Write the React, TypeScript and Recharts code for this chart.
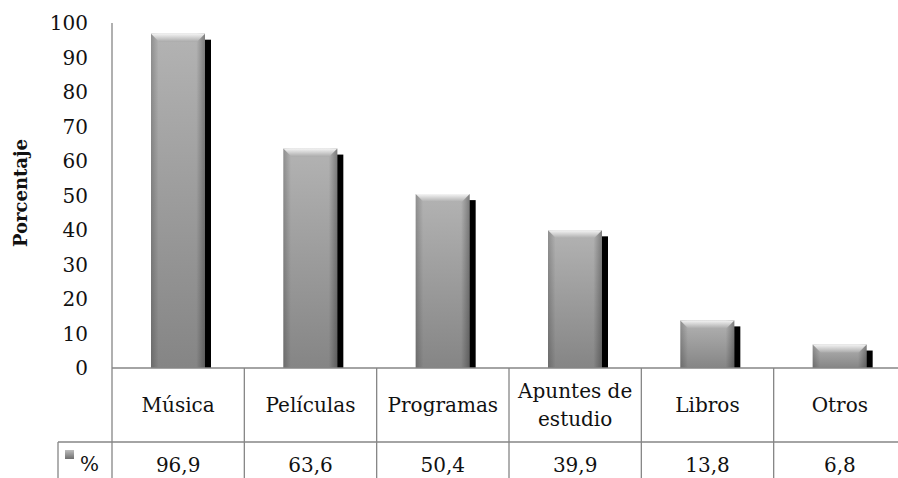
import React from "react";
import { BarChart, Bar, XAxis, YAxis } from "recharts";

const categories = ["Música", "Películas", "Programas", "Apuntes de estudio", "Libros", "Otros"];
const percentages = [96.9, 63.6, 50.4, 39.9, 13.8, 6.8];
const yTicks = [0, 10, 20, 30, 40, 50, 60, 70, 80, 90, 100];
const seriesName = "%";
const axisTitle = "Porcentaje";

const chartData = categories.map((name, i) => ({ name, value: percentages[i] }));

// layout
const CHART_W = 898;
const CHART_H = 478;
const PLOT_LEFT = 112;
const PLOT_RIGHT = 906;
const PLOT_BOTTOM = 368;
const ROW_SPLIT = 442;
const LEGEND_LEFT = 58;
const COL_W = (PLOT_RIGHT - PLOT_LEFT) / categories.length;

const LINE = "#868686";
const FONT = "DejaVu Serif";
const FS = 20;
const txt = { fontFamily: FONT, fontSize: FS };

const fmt = (v: number) => v.toFixed(1).replace(".", ",");

const wrap = (label: string) => {
  if (label.length <= 12) return [label];
  const cut = label.lastIndexOf(" ");
  return [label.slice(0, cut), label.slice(cut + 1)];
};

const BarShape = (props: any) => {
  const { x, y, width, height } = props;
  if (!height || height <= 0) return null;
  const bevel = Math.min(8, height / 2);
  return (
    <g>
      <rect x={x + 6} y={y + 6} width={width} height={Math.max(0, height - 6)} fill="#000" />
      <rect x={x} y={y} width={width} height={height} fill="url(#barFill)" />
      <rect x={x} y={y} width={width} height={height} fill="url(#barSides)" />
      <polygon
        points={`${x},${y} ${x + width},${y} ${x + width - bevel},${y + bevel} ${x + bevel},${y + bevel}`}
        fill="url(#barTop)"
      />
    </g>
  );
};

const YTick = (props: any) => (
  <text x={props.x} y={props.y} dy="0.35em" textAnchor="end" style={txt} fill="#111">
    {props.payload.value}
  </text>
);

const TableTick = (props: any) => {
  const { x, index } = props;
  const left = x - COL_W / 2;
  const right = x + COL_W / 2;
  const lines = wrap(categories[index]);
  const rowMid = (PLOT_BOTTOM + ROW_SPLIT) / 2;
  const isLast = index === categories.length - 1;
  return (
    <g>
      <line x1={left} y1={PLOT_BOTTOM} x2={left} y2={CHART_H} stroke={LINE} strokeWidth={1.3} />
      {isLast && <line x1={right} y1={PLOT_BOTTOM} x2={right} y2={CHART_H} stroke={LINE} strokeWidth={1.3} />}
      <line x1={index === 0 ? LEGEND_LEFT : left} y1={ROW_SPLIT} x2={right} y2={ROW_SPLIT} stroke={LINE} strokeWidth={1.3} />
      {index === 0 && (
        <g>
          <line x1={LEGEND_LEFT} y1={ROW_SPLIT} x2={LEGEND_LEFT} y2={CHART_H} stroke={LINE} strokeWidth={1.3} />
          <rect x={65} y={450} width={9} height={9} fill="url(#legendFill)" />
          <text x={80} y={471} style={txt} fill="#111">
            {seriesName}
          </text>
        </g>
      )}
      <text x={x} y={rowMid - ((lines.length - 1) * 28) / 2} textAnchor="middle" style={txt} fill="#111">
        {lines.map((l, i) => (
          <tspan key={i} x={x} dy={i === 0 ? "0.35em" : 28}>
            {l}
          </tspan>
        ))}
      </text>
      <text x={x} y={472} textAnchor="middle" style={txt} fill="#111">
        {fmt(percentages[index])}
      </text>
    </g>
  );
};

const AxisTitle = () => (
  <text
    x={27}
    y={193}
    transform="rotate(-90 27 193)"
    textAnchor="middle"
    style={{ fontFamily: FONT, fontSize: 18, fontWeight: "bold" }}
    fill="#111"
  >
    {axisTitle}
  </text>
);

export default function App() {
  return (
    <div style={{ position: "fixed", left: 0, top: 0, width: CHART_W, height: CHART_H, background: "#fff" }}>
      <BarChart
        width={CHART_W}
        height={CHART_H}
        data={chartData}
        margin={{ top: 23, right: CHART_W - PLOT_RIGHT, bottom: 0, left: PLOT_LEFT - 60 }}
        barSize={54}
      >
        <defs>
          <linearGradient id="barFill" x1="0" y1="0" x2="0" y2="1">
            <stop offset="0%" stopColor="#b3b3b3" />
            <stop offset="100%" stopColor="#858585" />
          </linearGradient>
          <linearGradient id="barSides" x1="0" y1="0" x2="1" y2="0">
            <stop offset="0%" stopColor="#000" stopOpacity={0.2} />
            <stop offset="14%" stopColor="#000" stopOpacity={0} />
            <stop offset="84%" stopColor="#000" stopOpacity={0} />
            <stop offset="100%" stopColor="#000" stopOpacity={0.3} />
          </linearGradient>
          <linearGradient id="barTop" x1="0" y1="0" x2="0" y2="1">
            <stop offset="0%" stopColor="#f4f4f4" />
            <stop offset="100%" stopColor="#ababab" />
          </linearGradient>
          <linearGradient id="legendFill" x1="0" y1="0" x2="0" y2="1">
            <stop offset="0%" stopColor="#bdbdbd" />
            <stop offset="100%" stopColor="#6e6e6e" />
          </linearGradient>
        </defs>
        <XAxis
          dataKey="name"
          height={CHART_H - PLOT_BOTTOM}
          axisLine={{ stroke: LINE, strokeWidth: 1.3 }}
          tickLine={false}
          tickSize={0}
          interval={0}
          tick={<TableTick />}
        />
        <YAxis
          width={60}
          domain={[0, 100]}
          ticks={yTicks}
          interval={0}
          axisLine={{ stroke: LINE, strokeWidth: 1.3 }}
          tickLine={false}
          tickSize={0}
          tickMargin={24}
          tick={<YTick />}
          label={{ content: <AxisTitle /> }}
        />
        <Bar dataKey="value" name={seriesName} shape={<BarShape />} isAnimationActive={false} />
      </BarChart>
    </div>
  );
}
